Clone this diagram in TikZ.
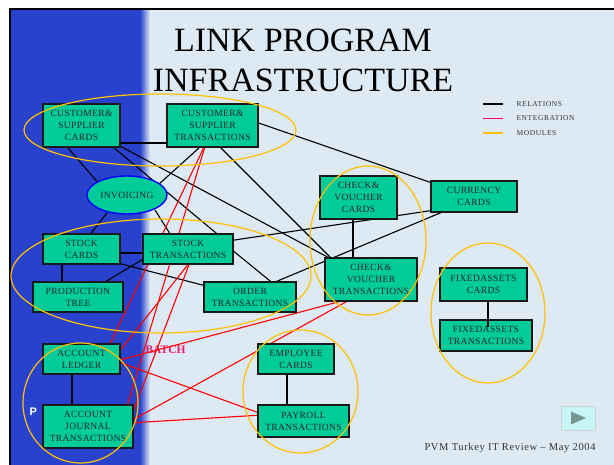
\documentclass[tikz,border=0pt]{standalone}
\usepackage{fontspec}
\setmainfont{Liberation Serif}
\newfontfamily\boxfont[LetterSpace=4]{Liberation Serif}
\newfontfamily\legfont[LetterSpace=8]{Liberation Serif}
\newfontfamily\footfont[LetterSpace=6]{Liberation Serif}
\newfontfamily\logofont{Liberation Sans}
\usetikzlibrary{calc,shapes.geometric}
\definecolor{bgblue}{RGB}{221,234,244}
\definecolor{panel}{RGB}{40,66,206}
\definecolor{boxgreen}{RGB}{0,204,153}
\definecolor{modyellow}{RGB}{255,192,0}
\definecolor{intred}{RGB}{255,0,0}
\definecolor{legred}{RGB}{255,0,102}
\definecolor{batchpink}{RGB}{230,30,110}
\definecolor{playbg}{RGB}{200,245,245}
\definecolor{playtri}{RGB}{120,150,145}
\begin{document}
\begin{tikzpicture}[x=1pt,y=-1pt,
  box/.style={draw=black!90, line width=1.4pt, fill=boxgreen, align=center, inner sep=0pt,
    text=black!85, font=\boxfont\fontsize{9.5}{12}\selectfont},
  invbox/.style={ellipse, draw=blue, line width=1.4pt, fill=boxgreen, inner sep=0pt,
    text=black!85, font=\boxfont\fontsize{9.5}{12}\selectfont},
  rel/.style={draw=black, line width=1.1pt},
  integ/.style={draw=intred, line width=1.1pt},
  module/.style={draw=modyellow, line width=1.2pt},
  legtext/.style={anchor=west, text=black!80, font=\legfont\fontsize{7.5}{8}\selectfont}
]
\path[use as bounding box] (0,0) rectangle (614,465);
% background
\fill[white] (0,0) rectangle (614,465);
\fill[bgblue] (10,9) rectangle (614,465);
\fill[panel] (10,9) rectangle (140,465);
\shade[left color=panel, right color=bgblue] (140,9) rectangle (150,465);
\draw[black, line width=2pt] (10,465) -- (10,9) -- (614,9);

% title
\node[anchor=base, font=\fontsize{34}{34}\selectfont] (t1) at (303,52) {LINK PROGRAM};
\node[anchor=base, font=\fontsize{34}{34}\selectfont] (t2) at (303,92) {INFRASTRUCTURE};

% legend
\node[legtext] (lr) at (513,104) {RELATIONS};
\node[legtext] (le) at (513,118.5) {ENTEGRATION};
\node[legtext] (lm) at (513,133) {MODULES};
\draw[black, line width=1.2pt] ($(lr.west)+(-30,0)$) -- ($(lr.west)+(-10,0)$);
\draw[legred, line width=1.2pt] ($(le.west)+(-30,0)$) -- ($(le.west)+(-10,0)$);
\draw[modyellow, line width=1.2pt] ($(lm.west)+(-30,0)$) -- ($(lm.west)+(-10,0)$);

% logo fragment and batch label
\node[anchor=west, text=white, font=\logofont\bfseries\fontsize{11}{11}\selectfont] (logo) at (26,412) {P};
\node[anchor=base west, text=batchpink, font=\bfseries\fontsize{11.5}{12}\selectfont] (batch) at (142,354) {BATCH};

% node positions (coordinates only, boxes drawn later)
\path (81.5,125.5) coordinate (csc) (212.5,125.5) coordinate (cst) (127,195) coordinate (inv)
      (81.5,249) coordinate (stc) (188,249) coordinate (stt) (78,297) coordinate (prd)
      (250,297) coordinate (ord) (81.5,359) coordinate (acl) (88,426.5) coordinate (acj)
      (296,359) coordinate (emp) (303.5,421) coordinate (pay) (358.5,197.5) coordinate (cvc)
      (474,196.5) coordinate (cur) (371,279.5) coordinate (cvt) (483.5,284.5) coordinate (fac)
      (486,335.5) coordinate (fat);

% relations
\draw[rel] ($(csc)+(28.5,17.5)$) -- ($(cst)+(-37.5,17.5)$);
\draw[rel] ($(csc)+(-19.5,15.5)$) -- ($(inv)+(-27,-10)$);
\draw[rel] ($(csc)+(31.5,21.5)$) -- ($(stt)+(34,-11)$);
\draw[rel] ($(csc)+(36.5,19.5)$) -- ($(cvt)+(-38,-19.5)$);
\draw[rel] ($(cst)+(-12.5,21.5)$) -- ($(inv)+(31,-10)$);
\draw[rel] ($(cst)+(7.5,21.5)$) -- ($(cvt)+(-38,-19.5)$);
\draw[rel] ($(cst)+(37.5,-5.5)$) -- ($(cur)+(-39,-12.5)$);
\draw[rel] ($(inv)+(-20,18)$) -- ($(stc)+(6.5,-12)$);
\draw[rel] ($(inv)+(28,15)$) -- ($(stt)+(-16,-12)$);
\draw[rel] ($(stt)+(40,-8)$) -- ($(cur)+(-39,13.5)$);
\draw[rel] ($(stt)+(38,-4)$) -- ($(ord)+(25,-12)$);
\draw[rel] ($(ord)+(18,-12)$) -- ($(cur)+(-22,11.5)$);
\draw[rel] ($(cvc)+(-5.5,17.5)$) -- ($(cvt)+(-18,-17.5)$);
\draw[rel] ($(stc)+(30,4)$) -- ($(stt)+(-40,4)$);
\draw[rel] ($(stc)+(-19.5,10)$) -- ($(prd)+(-16,-10)$);
\draw[rel] ($(stt)+(-43,9)$) -- ($(prd)+(22,-12)$);
\draw[rel] ($(stc)+(28.5,12)$) -- ($(ord)+(-40,-10)$);
\draw[rel] ($(acl)+(-9.5,10)$) -- ($(acj)+(-16,-16)$);
\draw[rel] ($(emp)+(-9,10)$) -- ($(pay)+(-16.5,-10)$);

% integration
\draw[integ] ($(cst)+(-6.5,17.5)$) -- ($(acl)+(26.5,-11)$);
\draw[integ] ($(cst)+(-6.5,17.5)$) -- ($(acj)+(38,-16.5)$);
\draw[integ] ($(stt)+(2,13)$) -- ($(acl)+(33.5,-2)$);
\draw[integ] ($(stt)+(2,13)$) -- ($(acj)+(42,-6.5)$);
\draw[integ] ($(acl)+(34.5,2)$) -- ($(cvt)+(-18,18.5)$);
\draw[integ] ($(acl)+(34.5,2)$) -- ($(pay)+(-41.5,-7)$);
\draw[integ] ($(acj)+(41,-4.5)$) -- ($(cvt)+(-18,18.5)$);
\draw[integ] ($(acj)+(41,-3.5)$) -- ($(pay)+(-41.5,-6)$);

% boxes
\node[box, minimum width=77pt, minimum height=43pt] (bcsc) at (csc) {CUSTOMER\&\\SUPPLIER\\CARDS};
\node[box, minimum width=91pt, minimum height=43pt] (bcst) at (cst) {CUSTOMER\&\\SUPPLIER\\TRANSACTIONS};
\node[invbox, minimum width=80pt, minimum height=38pt] (binv) at (inv) {INVOICING};
\node[box, minimum width=77pt, minimum height=30pt] (bstc) at (stc) {STOCK\\CARDS};
\node[box, minimum width=90pt, minimum height=30pt] (bstt) at (stt) {STOCK\\TRANSACTIONS};
\node[box, minimum width=90pt, minimum height=30pt] (bprd) at (prd) {PRODUCTION\\TREE};
\node[box, minimum width=92pt, minimum height=30pt] (bord) at (ord) {ORDER\\TRANSACTIONS};
\node[box, minimum width=77pt, minimum height=30pt] (bacl) at (acl) {ACCOUNT\\LEDGER};
\node[box, minimum width=90pt, minimum height=43pt] (bacj) at (acj) {ACCOUNT\\JOURNAL\\TRANSACTIONS};
\node[box, minimum width=76pt, minimum height=30pt] (bemp) at (emp) {EMPLOYEE\\CARDS};
\node[box, minimum width=91pt, minimum height=32pt] (bpay) at (pay) {PAYROLL\\TRANSACTIONS};
\node[box, minimum width=77pt, minimum height=43pt] (bcvc) at (cvc) {CHECK\&\\VOUCHER\\CARDS};
\node[box, minimum width=86pt, minimum height=31pt] (bcur) at (cur) {CURRENCY\\CARDS};
\node[box, minimum width=92pt, minimum height=43pt] (bcvt) at (cvt) {CHECK\&\\VOUCHER\\TRANSACTIONS};
\node[box, minimum width=87pt, minimum height=33pt] (bfac) at (fac) {FIXEDASSETS\\CARDS};
\node[box, minimum width=92pt, minimum height=31pt] (bfat) at (fat) {FIXEDASSETS\\TRANSACTIONS};
\draw[rel] ($(fac)+(4.5,16.5)$) -- ($(fat)+(2,-8.5)$);

% modules
\draw[module] (160,130) ellipse [x radius=136pt, y radius=36pt];
\draw[module] (161,276) ellipse [x radius=150pt, y radius=57pt];
\draw[module] (368,240.5) ellipse [x radius=58pt, y radius=74.5pt];
\draw[module] (488,313) ellipse [x radius=57pt, y radius=70pt];
\draw[module] (300.5,391.5) ellipse [x radius=57.5pt, y radius=61.5pt];
\draw[module] (80.5,403) ellipse [x radius=57.5pt, y radius=60pt];

% footer and play button
\node[anchor=base west, text=black!80, font=\footfont\fontsize{10.5}{11}\selectfont] (foot) at (421,450) {PVM Turkey IT Review – May 2004};
\node[draw=white!60!playtri, line width=0.6pt, fill=playbg, minimum width=34pt, minimum height=24pt, inner sep=0pt] (play) at (578,418) {};
\fill[playtri] ($(play.center)+(-7,-6.5)$) -- ($(play.center)+(8,0)$) -- ($(play.center)+(-7,6.5)$) -- cycle;
\end{tikzpicture}
\end{document}
